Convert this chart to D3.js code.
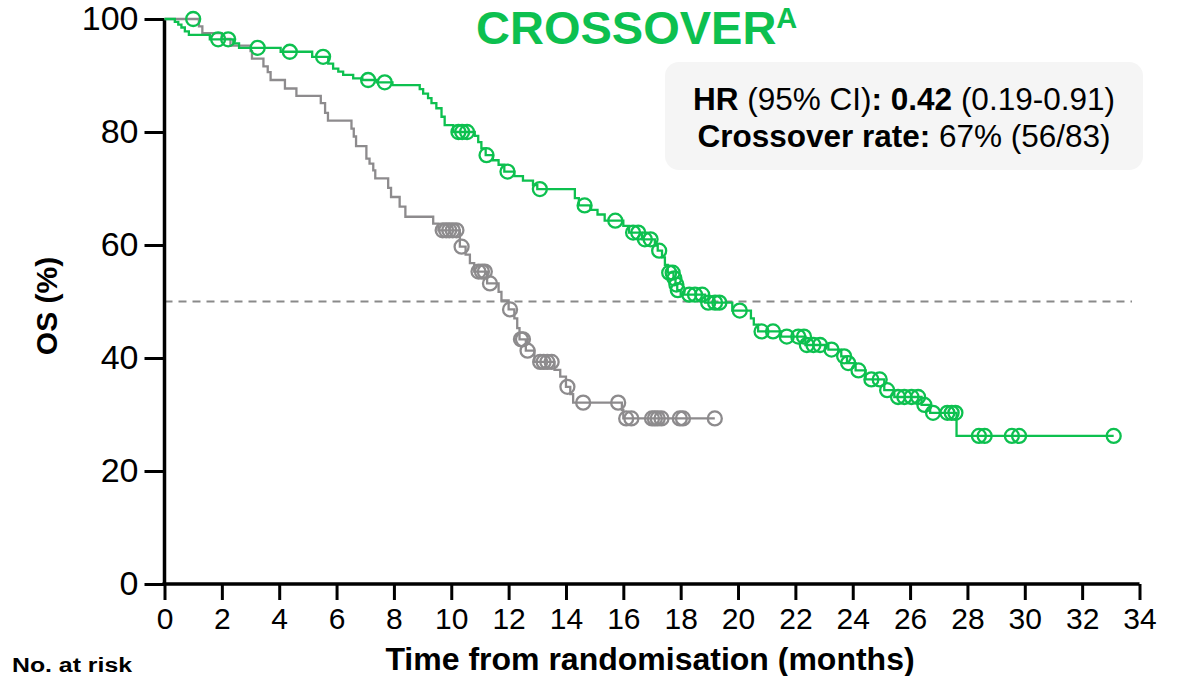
<!DOCTYPE html>
<html>
<head>
<meta charset="utf-8">
<script src="https://cdn.jsdelivr.net/npm/d3@7"></script>
<style>
  html, body { margin: 0; padding: 0; background: #fff; }
  svg { display: block; font-family: "Liberation Sans", Arial, sans-serif; }
</style>
</head>
<body>
<svg id="chart" width="1178" height="676"></svg>
<script>
// Kaplan–Meier overall survival, crossover vs no crossover
// Event steps: [months, survival % after the event]
const greenSteps = [
  [0.36,99.5],[0.48,99.0],[0.59,98.5],[0.71,97.8],[0.85,97.2],[1.58,96.4],[2.4,95.7],[2.6,94.9],
  [4.05,94.2],[5.15,93.3],[5.71,92.1],[5.88,91.2],[6.06,90.7],[6.23,90.1],[6.58,89.5],[6.9,89.2],
  [7.4,88.8],[7.95,88.3],[8.9,87.6],[9.02,86.8],[9.19,86.0],[9.31,85.1],[9.48,84.2],[9.66,82.7],
  [9.77,81.2],[10.07,80.0],[10.82,79.3],[10.94,78.2],[11.05,77.1],[11.2,75.9],[11.45,75.0],
  [11.65,74.2],[11.85,73.0],[12.2,72.2],[12.5,71.4],[12.85,70.6],[13.0,69.9],[14.31,68.3],
  [14.45,67.0],[14.85,66.2],[15.1,65.4],[15.35,64.3],[16.0,63.4],[16.2,62.2],[16.65,61.0],
  [17.1,59.9],[17.2,59.0],[17.35,57.8],[17.45,56.5],[17.55,55.1],[17.75,54.1],[17.82,53.0],
  [17.88,52.0],[18.0,51.2],[18.85,49.8],[19.8,48.4],[20.45,47.0],[20.55,45.9],[20.7,44.7],
  [21.5,43.8],[22.35,42.3],[23.15,41.5],[23.6,40.3],[23.8,39.1],[24.1,37.8],[24.45,36.2],
  [25.1,34.3],[25.45,33.1],[26.4,31.7],[26.7,30.3],[27.62,26.2]
];
// Censored observations: [months, survival %]
const greenCensored = [
  [1.0,100],[1.87,96.4],[2.22,96.4],[3.25,94.9],[4.37,94.2],[5.53,93.3],[7.1,89.2],[7.68,88.8],
  [10.25,80.0],[10.38,80.0],[10.55,80.0],[11.23,75.9],[11.96,73.0],[13.09,69.9],[14.65,67.0],
  [15.72,64.3],[16.34,62.2],[16.52,62.2],[16.75,61.0],[16.95,61.0],[17.25,59.0],[17.6,55.1],
  [17.72,55.1],[17.78,54.1],[17.85,53.0],[17.9,52.0],[18.3,51.2],[18.5,51.2],[18.75,51.2],
  [18.96,49.8],[19.2,49.8],[19.35,49.8],[20.06,48.4],[20.82,44.7],[21.22,44.7],[21.7,43.8],
  [22.1,43.8],[22.3,43.8],[22.4,42.3],[22.63,42.3],[22.86,42.3],[23.26,41.5],[23.7,40.3],
  [23.84,39.1],[24.2,37.8],[24.65,36.2],[24.94,36.2],[25.2,34.3],[25.58,33.1],[25.8,33.1],
  [26.05,33.1],[26.28,33.1],[26.5,31.7],[26.8,30.3],[27.3,30.3],[27.45,30.3],[27.58,30.3],
  [28.4,26.2],[28.6,26.2],[29.55,26.2],[29.8,26.2],[33.1,26.2]
];
const greySteps = [
  [1.2,98.7],[1.32,97.5],[2.0,96.5],[2.3,95.3],[3.0,94.3],[3.05,93.0],[3.45,91.6],[3.6,90.6],
  [3.7,89.2],[4.2,87.7],[4.6,86.4],[5.45,85.1],[5.6,83.4],[5.7,82.0],[6.52,80.6],[6.6,79.2],
  [6.68,77.5],[7.04,75.3],[7.15,74.4],[7.28,73.2],[7.35,71.8],[7.8,70.1],[7.9,68.5],[8.2,66.8],
  [8.4,65.0],[9.37,63.8],[9.55,62.6],[10.3,59.7],[10.5,58.3],[10.65,56.8],[10.8,55.3],
  [11.25,53.2],[11.65,51.7],[11.75,50.2],[12.0,48.6],[12.2,47.0],[12.3,45.3],[12.38,43.3],
  [12.6,41.3],[12.9,39.3],[13.6,37.9],[13.8,36.7],[14.0,34.9],[14.15,33.6],[14.25,32.1],
  [15.95,30.8],[16.0,29.3]
];
const greyCensored = [
  [9.7,62.6],[9.82,62.6],[9.93,62.6],[10.05,62.6],[10.18,62.6],[10.36,59.7],
  [10.95,55.3],[11.07,55.3],[11.17,55.3],[11.35,53.2],[12.05,48.6],[12.43,43.3],[12.5,43.3],
  [12.66,41.3],[13.1,39.3],[13.22,39.3],[13.35,39.3],[13.5,39.3],[14.05,34.9],[14.6,32.1],
  [15.82,32.1],[16.1,29.3],[16.28,29.3],[17.0,29.3],[17.1,29.3],[17.2,29.3],[17.33,29.3],
  [17.97,29.3],[18.08,29.3],[19.19,29.3]
];
const xTicks = d3.range(0, 35, 2);
const yTicks = [0, 20, 40, 60, 80, 100];
const medianLine = 50;

const GREEN = "#0dc04f";
const GREY = "#8d8b8d";

const svg = d3.select("#chart");
svg.append("rect").attr("width", 1178).attr("height", 676).attr("fill", "#fff");

const x = d3.scaleLinear().domain([0, 34]).range([164.5, 1139.5]);
const y = d3.scaleLinear().domain([0, 100]).range([584, 19]);

// Summary box
svg.append("rect")
  .attr("x", 665).attr("y", 62).attr("width", 478).attr("height", 108)
  .attr("rx", 14).attr("fill", "#f5f5f5");

const box = svg.append("g").attr("font-size", 31.5).attr("fill", "#000").attr("text-anchor", "middle");
const l1 = box.append("text").attr("x", 904).attr("y", 110);
l1.append("tspan").attr("font-weight", "bold").text("HR");
l1.append("tspan").text(" (95% CI)");
l1.append("tspan").attr("font-weight", "bold").text(": 0.42");
l1.append("tspan").text(" (0.19-0.91)");
const l2 = box.append("text").attr("x", 904).attr("y", 147);
l2.append("tspan").attr("font-weight", "bold").text("Crossover rate:");
l2.append("tspan").text(" 67% (56/83)");

// Title
const title = svg.append("text").attr("x", 476).attr("y", 44)
  .attr("fill", GREEN).attr("font-weight", "bold").attr("font-size", 47);
title.append("tspan").text("CROSSOVER");
title.append("tspan").attr("font-size", 29).attr("dy", -16).text("A");

// Median reference line
svg.append("line")
  .attr("x1", x(0)).attr("x2", 1132).attr("y1", y(medianLine)).attr("y2", y(medianLine))
  .attr("stroke", "#8a8a8a").attr("stroke-width", 2).attr("stroke-dasharray", "8,6");

// Axes
const yAxis = svg.append("g").attr("transform", `translate(${x(0)},0)`)
  .call(d3.axisLeft(y).tickValues(yTicks).tickSize(20).tickPadding(6));
const xAxis = svg.append("g").attr("transform", `translate(0,${y(0)})`)
  .call(d3.axisBottom(x).tickValues(xTicks).tickSize(16).tickPadding(8));
[yAxis, xAxis].forEach(a => {
  a.select(".domain").attr("stroke", "#000").attr("stroke-width", 3.5);
  a.selectAll(".tick line").attr("stroke", "#000").attr("stroke-width", 3);
  a.selectAll(".tick text").attr("fill", "#000").attr("font-family", "Liberation Sans, Arial, sans-serif");
});
yAxis.select(".domain").attr("d", `M0,${y(0)}V${y(100)}`);
xAxis.select(".domain").attr("d", `M${x(0) - 2},0H${x(34)}`);
yAxis.selectAll(".tick text").attr("font-size", 34);
xAxis.selectAll(".tick text").attr("font-size", 30);

// Axis titles
svg.append("text")
  .attr("transform", `translate(57,306) rotate(-90)`)
  .attr("text-anchor", "middle").attr("font-weight", "bold").attr("font-size", 30)
  .text("OS (%)");
svg.append("text")
  .attr("x", 650).attr("y", 670).attr("text-anchor", "middle")
  .attr("font-weight", "bold").attr("font-size", 32)
  .text("Time from randomisation (months)");
svg.append("text")
  .attr("x", 12).attr("y", 672).attr("font-weight", "bold").attr("font-size", 20)
  .attr("textLength", 120).attr("lengthAdjust", "spacingAndGlyphs")
  .text("No. at risk");

// Survival curves
const kmLine = d3.line().x(d => x(d[0])).y(d => y(d[1])).curve(d3.curveStepAfter);
function drawArm(steps, censored, colour) {
  const end = d3.max(censored, d => d[0]);
  const pts = [[0, 100], ...steps, [end, steps[steps.length - 1][1]]];
  const g = svg.append("g");
  g.append("path").datum(pts).attr("d", kmLine)
    .attr("fill", "none").attr("stroke", colour).attr("stroke-width", 2.3);
  g.selectAll("circle").data(censored).join("circle")
    .attr("cx", d => x(d[0])).attr("cy", d => y(d[1])).attr("r", 7)
    .attr("fill", "none").attr("stroke", colour).attr("stroke-width", 2.3);
}
drawArm(greySteps, greyCensored, GREY);
drawArm(greenSteps, greenCensored, GREEN);
</script>
</body>
</html>
